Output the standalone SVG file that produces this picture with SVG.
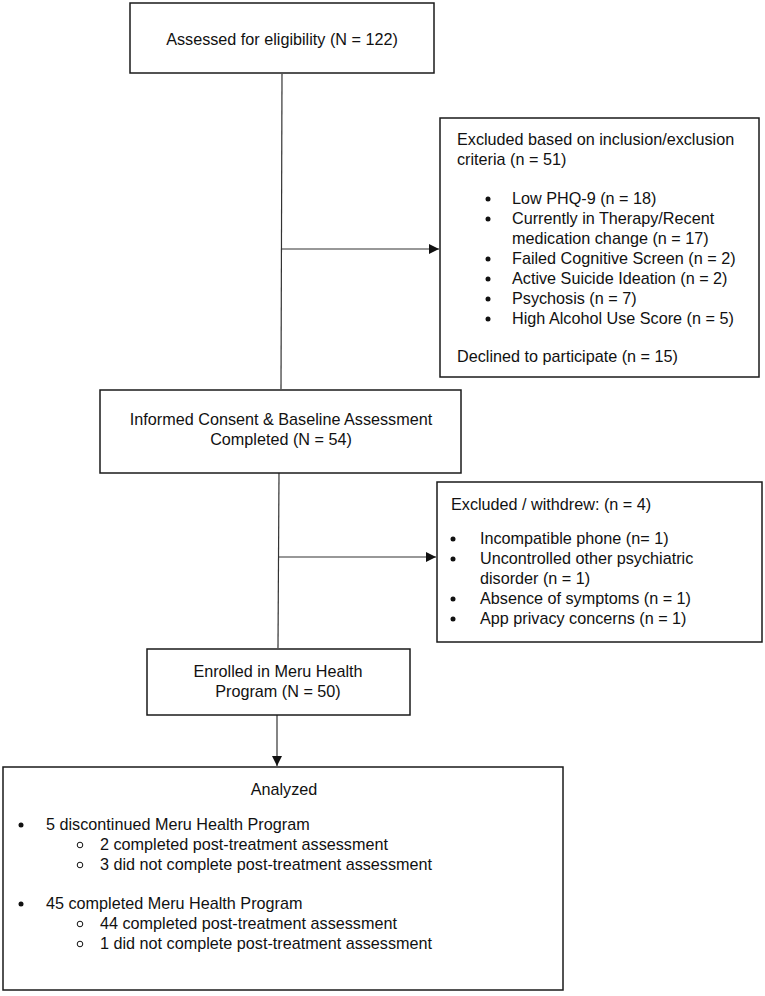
<svg xmlns="http://www.w3.org/2000/svg" width="765" height="996" viewBox="0 0 765 996">
<defs>
<style>
.box{fill:#fff;stroke:#1a1a1a;stroke-width:1.5}
.ln{fill:none;stroke:#333;stroke-width:1.2}
text{font-family:"Liberation Sans",Arial,sans-serif;font-size:16.2px;fill:#111}
.c{text-anchor:middle}
</style>
<marker id="ah" viewBox="0 0 10 10" refX="10" refY="5" markerWidth="10" markerHeight="10" markerUnits="userSpaceOnUse" orient="auto">
<path d="M0,0 L10,5 L0,10 Z" fill="#111"/>
</marker>
</defs>
<rect width="765" height="996" fill="#fff"/>
<g id="connectors">
<line class="ln" x1="282" y1="74" x2="281" y2="389"/>
<line class="ln" x1="281" y1="249" x2="439" y2="249" marker-end="url(#ah)"/>
<line class="ln" x1="279" y1="473" x2="278" y2="648"/>
<line class="ln" x1="278" y1="557" x2="436" y2="557" marker-end="url(#ah)"/>
<line class="ln" x1="277" y1="715" x2="277" y2="766" marker-end="url(#ah)"/>
</g>
<g id="assessed">
<rect class="box" x="130" y="3" width="304" height="70"/>
<text class="c" x="282" y="45">Assessed for eligibility (N = 122)</text>
</g>
<g id="excluded1">
<rect class="box" x="440" y="118" width="319" height="259"/>
<text x="457" y="145">Excluded based on inclusion/exclusion</text>
<text x="457" y="165">criteria (n = 51)</text>
<g>
<circle cx="488" cy="199" r="2.5" fill="#111"/>
<text x="512" y="204">Low PHQ-9 (n = 18)</text>
<circle cx="488" cy="219" r="2.5" fill="#111"/>
<text x="512" y="224">Currently in Therapy/Recent</text>
<text x="512" y="244">medication change (n = 17)</text>
<circle cx="488" cy="259" r="2.5" fill="#111"/>
<text x="512" y="264">Failed Cognitive Screen (n = 2)</text>
<circle cx="488" cy="279" r="2.5" fill="#111"/>
<text x="512" y="284">Active Suicide Ideation (n = 2)</text>
<circle cx="488" cy="299" r="2.5" fill="#111"/>
<text x="512" y="304">Psychosis (n = 7)</text>
<circle cx="488" cy="319" r="2.5" fill="#111"/>
<text x="512" y="324">High Alcohol Use Score (n = 5)</text>
</g>
<text x="457" y="362">Declined to participate (n = 15)</text>
</g>
<g id="consent">
<rect class="box" x="100" y="390" width="361" height="83"/>
<text class="c" x="281" y="425">Informed Consent &amp; Baseline Assessment</text>
<text class="c" x="281" y="445">Completed (N = 54)</text>
</g>
<g id="excluded2">
<rect class="box" x="437" y="482" width="325" height="160"/>
<text x="451" y="510">Excluded / withdrew: (n = 4)</text>
<circle cx="453" cy="539" r="2.5" fill="#111"/>
<text x="480" y="544">Incompatible phone (n= 1)</text>
<circle cx="453" cy="559" r="2.5" fill="#111"/>
<text x="480" y="564">Uncontrolled other psychiatric</text>
<text x="480" y="584">disorder (n = 1)</text>
<circle cx="453" cy="599" r="2.5" fill="#111"/>
<text x="480" y="604">Absence of symptoms (n = 1)</text>
<circle cx="453" cy="619" r="2.5" fill="#111"/>
<text x="480" y="624">App privacy concerns (n = 1)</text>
</g>
<g id="enrolled">
<rect class="box" x="147" y="649" width="263" height="66"/>
<text class="c" x="278" y="677">Enrolled in Meru Health</text>
<text class="c" x="278" y="697">Program (N = 50)</text>
</g>
<g id="analyzed">
<rect class="box" x="3" y="767" width="560" height="223"/>
<text class="c" x="284" y="795">Analyzed</text>
<circle cx="21" cy="825" r="2.5" fill="#111"/>
<text x="46" y="830">5 discontinued Meru Health Program</text>
<circle cx="80" cy="845" r="2.8" fill="none" stroke="#111" stroke-width="1"/>
<text x="100" y="850">2 completed post-treatment assessment</text>
<circle cx="80" cy="865" r="2.8" fill="none" stroke="#111" stroke-width="1"/>
<text x="100" y="870">3 did not complete post-treatment assessment</text>
<circle cx="21" cy="904" r="2.5" fill="#111"/>
<text x="46" y="909">45 completed Meru Health Program</text>
<circle cx="80" cy="924" r="2.8" fill="none" stroke="#111" stroke-width="1"/>
<text x="100" y="929">44 completed post-treatment assessment</text>
<circle cx="80" cy="944" r="2.8" fill="none" stroke="#111" stroke-width="1"/>
<text x="100" y="949">1 did not complete post-treatment assessment</text>
</g>
</svg>
